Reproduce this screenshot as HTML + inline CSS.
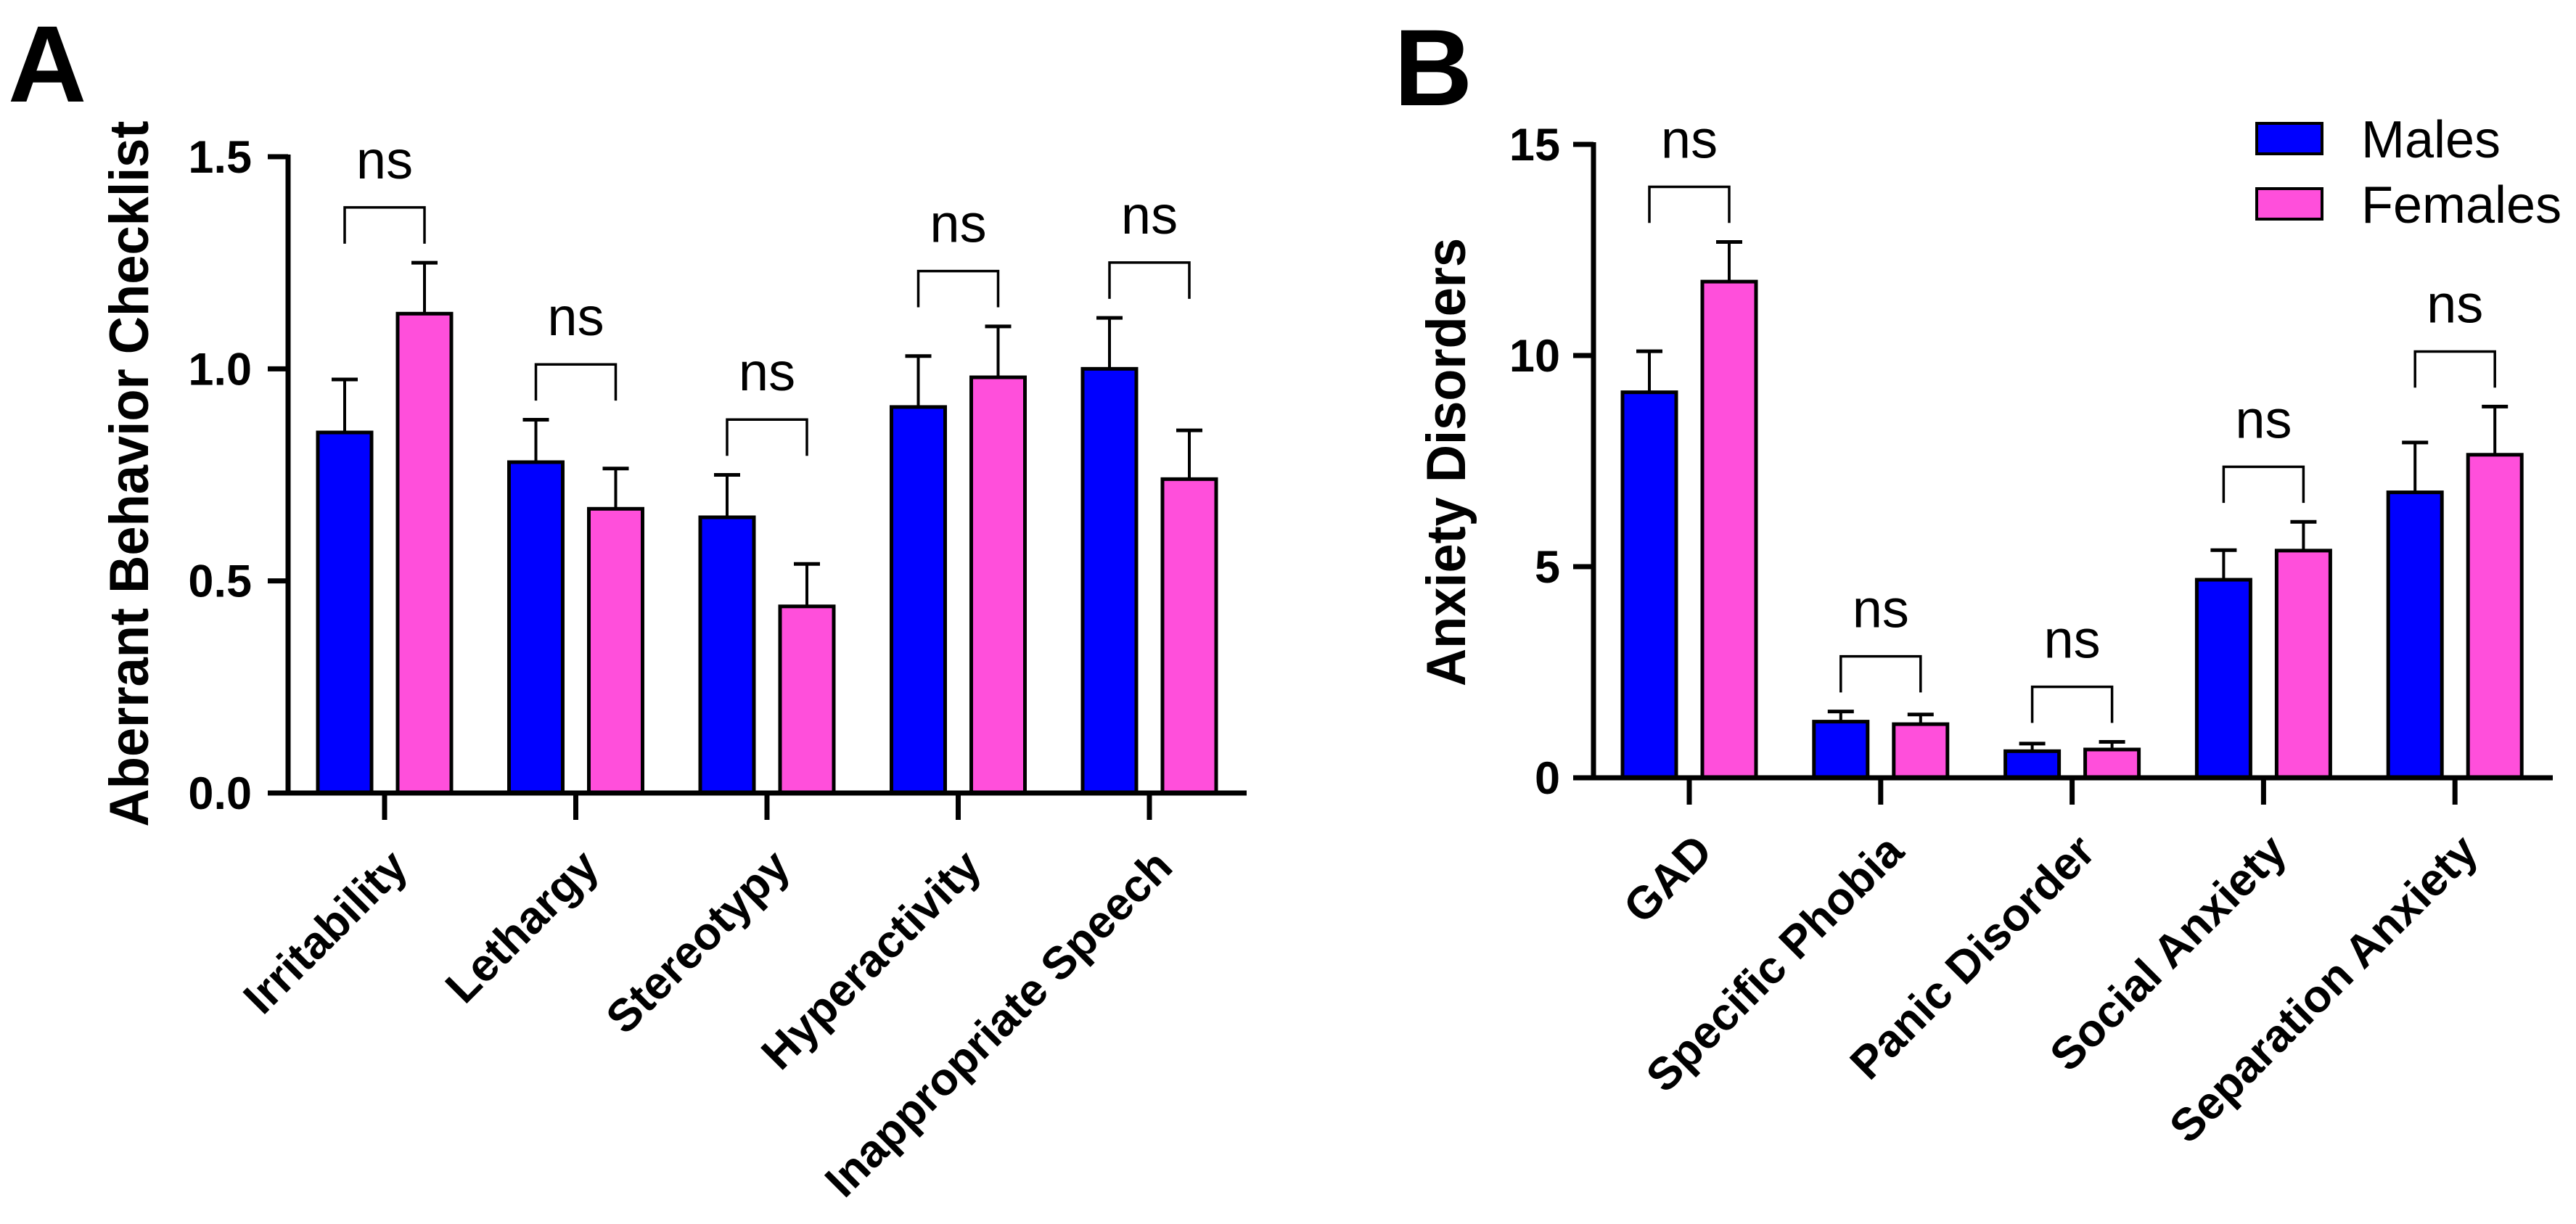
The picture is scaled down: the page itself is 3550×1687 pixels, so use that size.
<!DOCTYPE html>
<html><head><meta charset="utf-8"><style>
html,body{margin:0;padding:0;background:#fff}
svg{display:block}
text{font-family:"Liberation Sans",Arial,sans-serif}
</style></head><body>
<svg id="fig" width="3550" height="1687" viewBox="0 0 3550 1687" xmlns="http://www.w3.org/2000/svg">
<text x="11" y="140" font-size="150" font-weight="bold">A</text>
<text x="1921" y="145" font-size="150" font-weight="bold">B</text>
<text transform="translate(204,653) rotate(-90)" text-anchor="middle" font-size="76" font-weight="bold" textLength="973" lengthAdjust="spacingAndGlyphs">Aberrant Behavior Checklist</text>
<text transform="translate(2019,637) rotate(-90)" text-anchor="middle" font-size="76" font-weight="bold" textLength="618" lengthAdjust="spacingAndGlyphs">Anxiety Disorders</text>
<g>
<rect x="3110" y="170" width="90" height="42" fill="#0000ff" stroke="#000" stroke-width="4"/>
<rect x="3110" y="260" width="90" height="42" fill="#ff4fdb" stroke="#000" stroke-width="4"/>
<text x="3254" y="217" font-size="72">Males</text>
<text x="3254" y="307" font-size="72">Females</text>
</g>
<g id="pa"></g>
<g id="pb"></g>
</svg>
<script>
const catsA = ["Irritability","Lethargy","Stereotypy","Hyperactivity","Inappropriate Speech"];
const malesA = [0.85,0.78,0.65,0.91,1.0];
const malesErrA = [0.125,0.10,0.10,0.12,0.12];
const femalesA = [1.13,0.67,0.44,0.98,0.74];
const femalesErrA = [0.12,0.095,0.10,0.12,0.115];
const ticksA = [0,0.5,1.0,1.5];
const tickLabelsA = ["0.0","0.5","1.0","1.5"];

const catsB = ["GAD","Specific Phobia","Panic Disorder","Social Anxiety","Separation Anxiety"];
const malesB = [9.13,1.33,0.63,4.69,6.76];
const malesErrB = [0.97,0.24,0.18,0.70,1.18];
const femalesB = [11.75,1.27,0.67,5.38,7.65];
const femalesErrB = [0.94,0.23,0.18,0.68,1.14];
const ticksB = [0,5,10,15];
const tickLabelsB = ["0","5","10","15"];

const NS = "http://www.w3.org/2000/svg";
function mk(parent, tag, attrs){
  const e = document.createElementNS(NS, tag);
  for (const k in attrs) e.setAttribute(k, attrs[k]);
  parent.appendChild(e); return e;
}
function draw(g, cfg){
  const {axX, y0, yTop, ymax, x0, step, xEnd, labelRight, cats, m, me, f, fe, ticks, tl} = cfg;
  const Y = v => y0 - (v/ymax)*(y0-yTop);
  const X = i => x0 + i*step;
  const bw = 74, off = 55;
  const series = [[m,me,-off,"#0000ff","male"],[f,fe,off,"#ff4fdb","female"]];
  cats.forEach((c,i)=>{
    series.forEach(s=>{
      const cx = X(i)+s[2], v = s[0][i], e = s[1][i];
      const el = mk(g,"line",{x1:cx,x2:cx,y1:Y(v),y2:Y(v+e),stroke:"#000","stroke-width":4});
      
      
      const cap = mk(g,"line",{x1:cx-18,x2:cx+18,y1:Y(v+e),y2:Y(v+e),stroke:"#000","stroke-width":5});
      
      
      const r = mk(g,"rect",{x:cx-bw/2,y:Y(v),width:bw,height:y0-Y(v),fill:s[3],stroke:"#000","stroke-width":5});
      
      
    });
    const top = Math.max(m[i]+me[i], f[i]+fe[i]) + ymax*0.087;
    const leg = ymax*0.057;
    const bx1 = X(i)-off, bx2 = X(i)+off;
    const br = mk(g,"path",{d:`M${bx1},${Y(top-leg)} L${bx1},${Y(top)} L${bx2},${Y(top)} L${bx2},${Y(top-leg)}`,fill:"none",stroke:"#000","stroke-width":3.5});
    
    
    const t = mk(g,"text",{x:X(i),y:Y(top)-40,"text-anchor":"middle","font-size":74});
    t.textContent = "ns";
    
    
    const tk = mk(g,"line",{x1:X(i),x2:X(i),y1:y0,y2:y0+37,stroke:"#000","stroke-width":7});
    
    
    const lb = mk(g,"text",{transform:`translate(${X(i)+35},${y0+105}) rotate(-45)`,"text-anchor":"end","font-size":63,"font-weight":"bold"});
    lb.textContent = c;
    
    
  });
  const ya = mk(g,"line",{x1:axX,x2:axX,y1:Y(ymax)-3,y2:y0+3.5,stroke:"#000","stroke-width":7});
  
  
  const xa = mk(g,"line",{x1:axX-3.5,x2:xEnd,y1:y0,y2:y0,stroke:"#000","stroke-width":7});
  
  
  ticks.forEach((v,k)=>{
    const tk = mk(g,"line",{x1:axX-28,x2:axX,y1:Y(v),y2:Y(v),stroke:"#000","stroke-width":7});
    
    
    const t = mk(g,"text",{x:labelRight,y:Y(v)+22,"text-anchor":"end","font-size":63,"font-weight":"bold"});
    t.textContent = tl[k];
    
    
  });
}
draw(document.getElementById("pa"), {axX:397,y0:1093,yTop:216,ymax:1.5,x0:530,step:263.5,xEnd:1718,labelRight:347,
  cats:catsA,m:malesA,me:malesErrA,f:femalesA,fe:femalesErrA,ticks:ticksA,tl:tickLabelsA});
draw(document.getElementById("pb"), {axX:2196,y0:1072,yTop:199,ymax:15,x0:2328,step:263.8,xEnd:3518,labelRight:2150,
  cats:catsB,m:malesB,me:malesErrB,f:femalesB,fe:femalesErrB,ticks:ticksB,tl:tickLabelsB});
</script>
</body></html>
